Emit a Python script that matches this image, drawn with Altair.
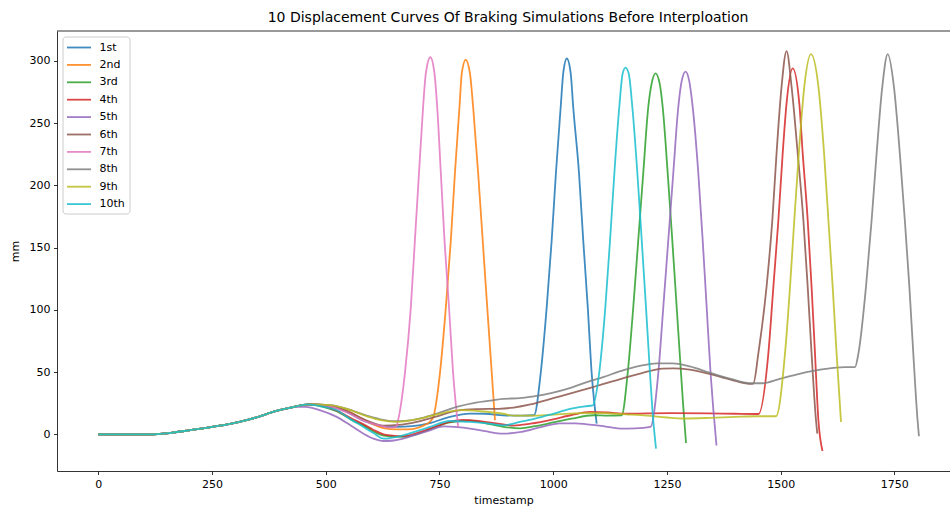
import altair as alt
import pandas as pd

# Shared start of every braking run (all ten runs coincide here)
BASE_T = [0, 60, 110, 130, 160, 200, 250, 290, 330, 360, 377, 407, 420]
BASE_MM = [0, 0, 0, 0.2, 1.2, 3.2, 5.9, 8.4, 11.8, 15.0, 17.2, 20.2, 21.2]

# Per-run continuation after the shared start
RUN1_T = [440, 470, 500, 540, 583, 627, 656, 690, 729, 773, 817, 850, 890, 930, 958,
          972.5, 985.7, 996.7, 1006, 1016.5, 1022, 1030, 1038.5, 1044, 1056.7, 1066, 1076, 1084.6, 1095.6]
RUN1_MM = [22.8, 24, 23, 19, 11, 6.4, 5.9, 6.5, 9, 14, 16.6, 16.5, 15.3, 15, 15.3,
           49, 102, 156, 210, 263, 290, 302, 290, 263, 210, 156, 102, 49, 8.6]

RUN2_T = [440, 470, 500, 540, 583, 627, 656, 680, 700, 716, 730, 736,
          751, 764, 775, 784, 794, 799, 807.6, 817, 824, 835, 845, 855, 865, 872]
RUN2_MM = [22.8, 24, 23, 20, 12, 5, 4, 4, 5, 7.2, 10.5, 13.5,
           49, 102, 156, 210, 263, 290, 301, 290, 263, 210, 156, 102, 49, 11.3]

RUN3_T = [440, 460, 490, 524, 555, 583, 627, 670, 700, 729, 773, 817, 850, 890, 928, 960, 1000, 1040,
          1088, 1120, 1150.5, 1163.7, 1176, 1187, 1198, 1209, 1216.5, 1225, 1234, 1240.7, 1251.7,
          1261.8, 1271.5, 1281, 1286, 1292]
RUN3_MM = [22.8, 24, 22.5, 18.5, 12, 7, -1, -2, 0, 4, 9.5, 11, 9, 6, 4.8, 6.5, 9.5, 12.5,
           15.3, 15, 15.3, 49, 102, 156, 210, 263, 282, 290, 282, 263, 210,
           156, 102, 49, 22, -7]

RUN4_T = [440, 460, 490, 524, 555, 583, 605, 627, 650, 670, 700, 729, 773, 800, 817, 850, 890, 913, 950,
          1000, 1040, 1081, 1120, 1160, 1206, 1260, 1344, 1400, 1451, 1473, 1484, 1495, 1504.5, 1513,
          1526.5, 1541, 1548.5, 1559.5, 1568, 1575.5, 1583, 1592]
RUN4_MM = [22.8, 24, 23, 19, 13, 8, 3.5, 0, -1.2, -1.5, 1, 4.5, 10, 11.5, 11.3, 10, 8, 7, 8.5,
           12, 15.5, 18, 17.5, 16.5, 16.8, 17, 16.8, 16.5, 16.3, 65, 118.5, 172, 225.8, 266,
           294, 266, 225.8, 172, 118.5, 65, 11.3, -13.4]

RUN5_T = [440, 455, 490, 524, 555, 583, 605, 627, 650, 670, 700, 729, 759, 790, 817, 850, 890, 930,
          970, 1015, 1050, 1074, 1110, 1147, 1180, 1214, 1231, 1242, 1253, 1264, 1275, 1282.5, 1291,
          1299, 1306.7, 1319, 1328.6, 1337.4, 1346, 1352, 1359]
RUN5_MM = [22, 22, 19, 14, 7, 0.5, -3.5, -5.4, -5, -3.5, 0, 3.2, 6.4, 5.8, 4.6, 2.5, 0.5, 2,
           5.5, 8.8, 8.8, 8, 6.5, 4.6, 4.8, 6, 49, 102, 156, 210, 263, 284, 291.5,
           284, 263, 210, 156, 102, 49, 20, -9]

RUN6_T = [440, 470, 510, 550, 590, 627, 660, 700, 740, 789, 830, 880, 913, 950, 1000, 1050, 1088,
          1130, 1191, 1241, 1263, 1300, 1344, 1390, 1432, 1440, 1451, 1469, 1481.7, 1491, 1502,
          1513, 1524, 1537.5, 1550, 1559.5, 1568, 1577.7, 1580.6]
RUN6_MM = [22.8, 24, 23, 18, 11, 7, 7.5, 10, 14, 19, 20.2, 20.5, 21.5, 24, 29, 34, 38,
           42.5, 48.8, 52.8, 53, 52, 48.5, 44, 40.5, 40.8, 65, 118.5, 172, 225.8, 279.4,
           308, 279.4, 225.8, 172, 118.5, 65, 11.3, 0.5]

RUN7_T = [440, 470, 510, 550, 583, 620, 640, 655, 659, 674, 687, 696, 705, 714, 720, 730,
          739, 745, 753, 761, 771, 780, 791]
RUN7_MM = [22.8, 24, 22.5, 17, 11, 7, 5.5, 6, 11.3, 49, 102, 156, 210, 263, 290, 303,
           290, 263, 210, 156, 102, 49, 6]

RUN8_T = [440, 470, 510, 550, 590, 620, 650, 680, 710, 744, 788, 830, 862, 890, 927, 957, 1000,
          1040, 1074, 1110, 1150, 1191, 1228, 1263, 1300, 1344, 1390, 1432, 1460, 1498, 1557,
          1616, 1640, 1663.5, 1671, 1687.6, 1700, 1711, 1723.5, 1735.3, 1749, 1762, 1773, 1783,
          1791.6, 1801, 1804]
RUN8_MM = [22.8, 24, 23.5, 20, 15, 12, 10.5, 11, 13, 16.6, 22, 25.5, 27, 28.5, 29, 30.5, 33.5,
           37.5, 42, 46, 51, 55, 57, 57, 54.5, 49.5, 44.5, 41, 41, 44.5, 50,
           53.3, 54, 54, 65, 118.5, 172, 225.8, 279.4, 305.5, 279.4, 225.8, 172, 118.5,
           65, 11.3, -1.6]

RUN9_T = [440, 470, 510, 550, 590, 621, 656, 700, 744, 796, 840, 890, 913, 960, 1010, 1060, 1110,
          1160, 1206, 1250, 1286, 1344, 1400, 1450, 1490, 1509.6, 1520.6, 1530, 1540, 1552, 1566.7,
          1583, 1595.5, 1605, 1614.4, 1623, 1632.7]
RUN9_MM = [22.8, 24, 23.5, 20, 14.5, 11.3, 10, 12, 16, 19.4, 18.5, 16.5, 15, 15, 16, 17, 17,
           16, 15, 13.5, 12.7, 13.2, 14, 14.5, 14.5, 65, 118.5, 172, 225.8, 279.4, 305.5,
           279.4, 225.8, 172, 118.5, 65, 9.9]

RUN10_T = [440, 460, 490, 524, 555, 583, 605, 627, 650, 670, 700, 729, 773, 817, 860, 890, 927, 960,
           1000, 1037, 1070, 1087, 1101, 1114.6, 1125, 1134.5, 1145.3, 1152.7, 1159, 1166, 1174,
           1185, 1194.6, 1204, 1212.8, 1218, 1226]
RUN10_MM = [22.8, 24, 22.5, 19.3, 12, 5.9, 1, -3.5, -2.5, -0.8, 2.5, 5.9, 10.7, 9.9, 8.5, 7.2, 10, 12.5,
            16.5, 20.5, 22.5, 23.3, 49, 102, 156, 210, 263, 290, 294.7, 290, 263,
            210, 156, 102, 49, 20, -11.5]

LABELS = ["1st", "2nd", "3rd", "4th", "5th", "6th", "7th", "8th", "9th", "10th"]
COLORS = ["#1f77b4", "#ff7f0e", "#2ca02c", "#d62728", "#9467bd",
          "#8c564b", "#e377c2", "#7f7f7f", "#bcbd22", "#17becf"]

RUNS = [(RUN1_T, RUN1_MM), (RUN2_T, RUN2_MM), (RUN3_T, RUN3_MM), (RUN4_T, RUN4_MM),
        (RUN5_T, RUN5_MM), (RUN6_T, RUN6_MM), (RUN7_T, RUN7_MM), (RUN8_T, RUN8_MM),
        (RUN9_T, RUN9_MM), (RUN10_T, RUN10_MM)]

X_TICKS = [0, 250, 500, 750, 1000, 1250, 1500, 1750]
Y_TICKS = [0, 50, 100, 150, 200, 250, 300]

rows = []
for idx, (label, (t_tail, mm_tail)) in enumerate(zip(LABELS, RUNS)):
    for t, v in zip(BASE_T + t_tail, BASE_MM + mm_tail):
        rows.append({"run": label, "order": idx, "timestamp": t, "mm": v})
df = pd.DataFrame(rows)

W, H = 893, 440
FONT = "DejaVu Sans"

lines = alt.Chart(df).mark_line(
    strokeWidth=1.8, opacity=0.85, interpolate="monotone", clip=True
).encode(
    x=alt.X("timestamp:Q",
            scale=alt.Scale(domain=[-90.8, 1872.3], nice=False, zero=False),
            axis=alt.Axis(values=X_TICKS, title="timestamp", grid=False, format="d")),
    y=alt.Y("mm:Q",
            scale=alt.Scale(domain=[-29.5, 324.1], nice=False, zero=False),
            axis=alt.Axis(values=Y_TICKS, title="mm", grid=False, format="d")),
    color=alt.Color("run:N",
                    scale=alt.Scale(domain=LABELS, range=COLORS),
                    sort=LABELS,
                    legend=alt.Legend(
                        title=None, orient="none", legendX=5.5, legendY=5.5,
                        symbolType="M-2,0L2,0", symbolSize=144, symbolStrokeWidth=1.8,
                        symbolOpacity=0.85, symbolOffset=5.5,
                        labelFont=FONT, labelFontSize=11, labelColor="black",
                        labelOffset=13.5, padding=4, rowPadding=5.4,
                        fillColor="rgba(255,255,255,0.8)", strokeColor="#cccccc",
                        cornerRadius=3)),
    detail="order:O",
)

# upper frame edge of the axes box
top_edge = alt.Chart(pd.DataFrame({"k": [0]})).mark_rule(
    color="black", strokeWidth=0.8
).encode(x=alt.value(0), x2=alt.value(W), y=alt.value(0))

chart = alt.layer(lines, top_edge).properties(
    width=W, height=H,
    title=alt.TitleParams(
        "10 Displacement Curves Of Braking Simulations Before Interploation",
        font=FONT, fontSize=14, fontWeight="normal", color="black",
        anchor="middle", offset=6, dx=4.5),
    autosize=alt.AutoSizeParams(type="none"),
    padding={"left": 57, "top": 31, "right": 0, "bottom": 36},
).configure_view(stroke=None).configure_axis(
    domainColor="black", domainWidth=0.8, tickColor="black", tickWidth=0.8,
    tickSize=3.5, labelPadding=3.5, labelFont=FONT, labelFontSize=11,
    labelColor="black", titleFont=FONT, titleFontSize=11, titleFontWeight="normal",
    titleColor="black"
).configure_axisX(titlePadding=5).configure_axisY(titlePadding=9)

chart.save("out.html", embed_options={"renderer": "svg", "actions": False})
